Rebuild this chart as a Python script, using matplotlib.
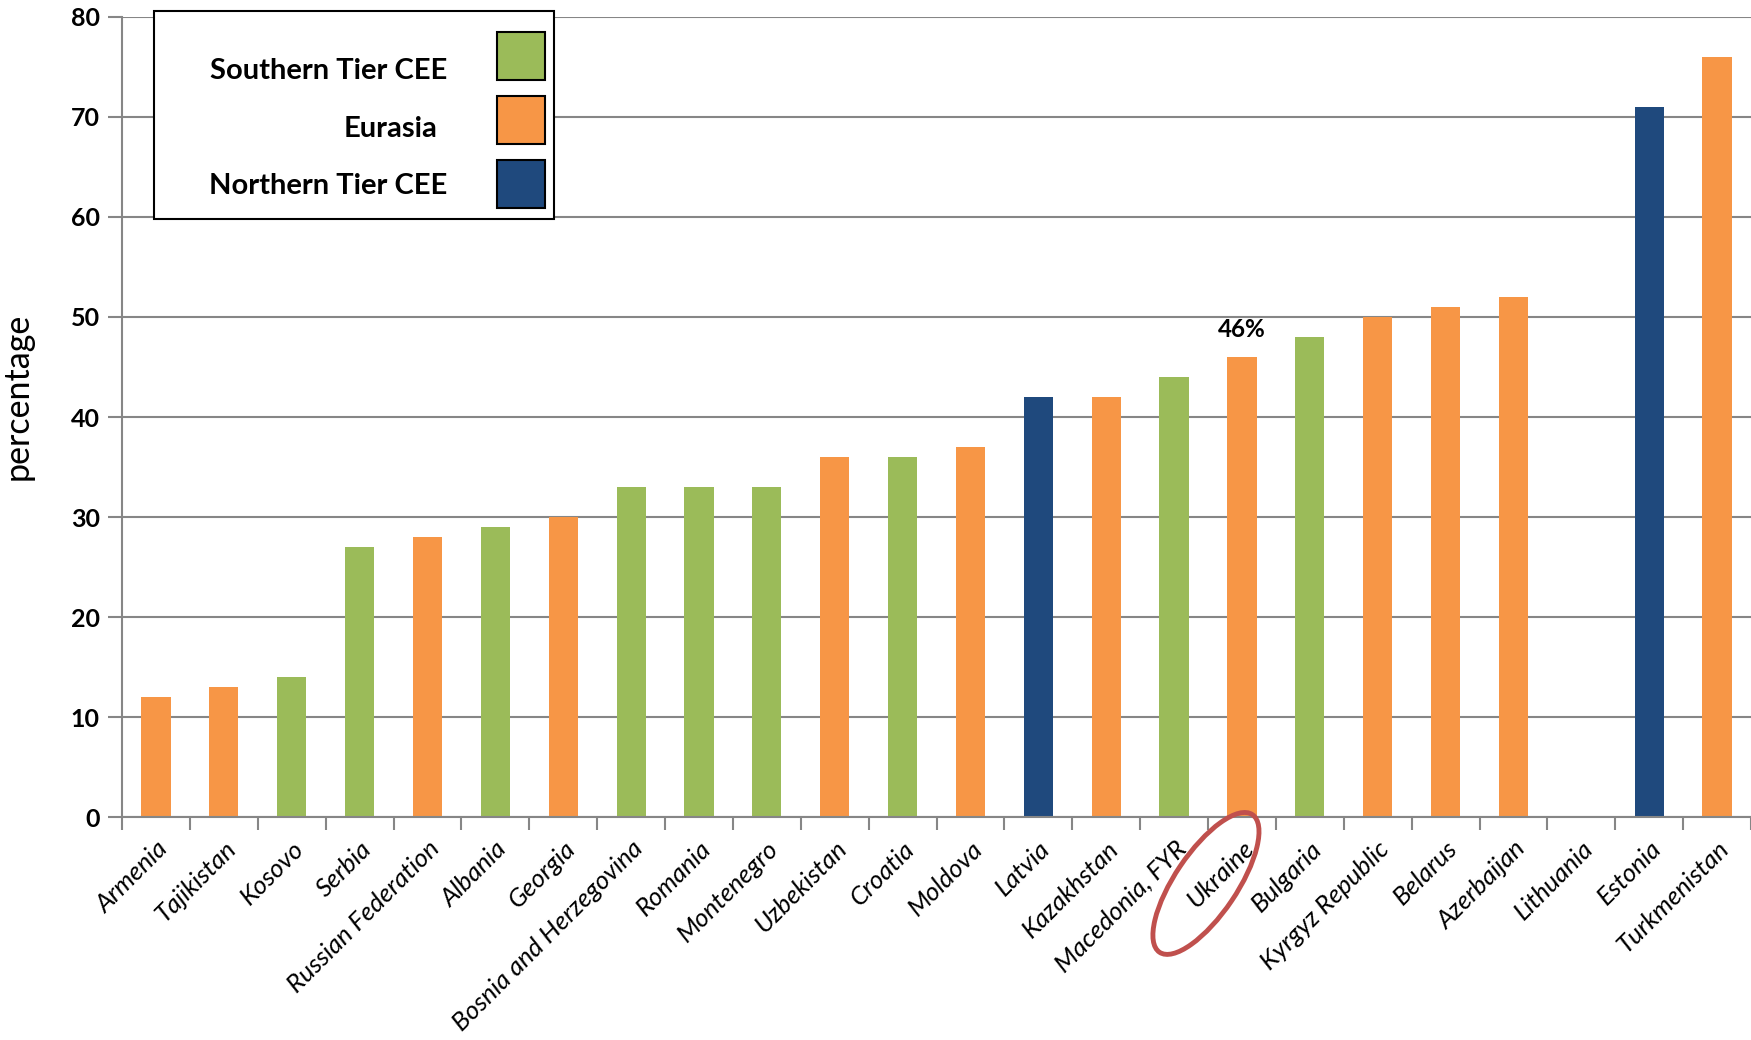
import matplotlib.pyplot as plt
import numpy as np
from matplotlib.patches import Rectangle, Ellipse
from matplotlib.transforms import IdentityTransform

# Data
countries = ["Armenia", "Tajikistan", "Kosovo", "Serbia", "Russian Federation", "Albania",
             "Georgia", "Bosnia and Herzegovina", "Romania", "Montenegro", "Uzbekistan",
             "Croatia", "Moldova", "Latvia", "Kazakhstan", "Macedonia, FYR", "Ukraine",
             "Bulgaria", "Kyrgyz Republic", "Belarus", "Azerbaijan", "Lithuania",
             "Estonia", "Turkmenistan"]
values = [12, 13, 14, 27, 28, 29, 30, 33, 33, 33, 36, 36, 37, 42, 42, 44, 46, 48, 50, 51, 52, 0, 71, 76]
groups = ["E", "E", "S", "S", "E", "S", "E", "S", "S", "S", "E", "S", "E", "N", "E", "S", "E",
          "S", "E", "E", "E", "N", "N", "E"]
group_names = {"S": "Southern Tier CEE", "E": "Eurasia", "N": "Northern Tier CEE"}
group_colors = {"S": "#9BBB59", "E": "#F79646", "N": "#1F497D"}
yticks = [0, 10, 20, 30, 40, 50, 60, 70, 80]
highlight = "Ukraine"
highlight_label = "46%"

grid_color = "#868686"

fig = plt.figure(figsize=(17.51, 10.40), dpi=100)
ax = fig.add_axes([0.0697, 0.214, 1 - 0.0697, 0.770])

x = np.arange(len(countries))
ax.bar(x, values, width=0.43, color=[group_colors[g] for g in groups], zorder=3)

ax.set_xlim(-0.5, len(countries) - 0.5)
ax.set_ylim(0, 80)
ax.set_yticks(yticks)
ax.set_yticklabels([str(t) for t in yticks], fontsize=18, fontweight="bold", family="Lato")
ax.yaxis.grid(True, color=grid_color, linewidth=1.5, zorder=0)
ax.tick_params(axis="y", length=10, width=1.5, color=grid_color, pad=6)

ax.set_xticks(x)
ax.set_xticklabels(countries, rotation=45, ha="right", rotation_mode="anchor",
                   fontsize=18.5, style="italic", family="Lato")
ax.tick_params(axis="x", which="major", length=0, pad=14)
ax.set_xticks(np.arange(-0.5, len(countries), 1), minor=True)
ax.tick_params(axis="x", which="minor", length=9, width=1.5, color=grid_color)

for s in ["top", "right"]:
    ax.spines[s].set_visible(False)
for s in ["left", "bottom"]:
    ax.spines[s].set_color(grid_color)
    ax.spines[s].set_linewidth(1.5)
ax.spines["bottom"].set_zorder(4)

ax.set_ylabel("percentage", fontsize=24.5, family="Lato")
ax.yaxis.set_label_coords(-0.0545, 0.526)

# value label above highlighted bar
hi = countries.index(highlight)
ax.text(hi, values[hi] + 1.6, highlight_label, ha="center", va="bottom",
        fontsize=17.5, fontweight="bold", family="Lato")

# legend drawn by hand (text right aligned left of swatches)
W, H = 1751, 1040
def fx(px):
    return px / W
def fy(py):
    return 1 - py / H

fig.add_artist(Rectangle((fx(154), fy(219)), fx(554) - fx(154), fy(11) - fy(219),
                         transform=fig.transFigure, facecolor="white", edgecolor="black",
                         linewidth=1.5, zorder=10))
text_y = [71, 129, 186]
text_x = [447, 437, 447]
for i, g in enumerate(["S", "E", "N"]):
    top = 32 + i * 64
    fig.add_artist(Rectangle((fx(497), fy(top + 48)), fx(545) - fx(497), fy(top) - fy(top + 48),
                             transform=fig.transFigure, facecolor=group_colors[g],
                             edgecolor="black", linewidth=1.5, zorder=11))
    fig.text(fx(text_x[i]), fy(text_y[i]), group_names[g], ha="right", va="center",
             fontsize=21, fontweight="bold", family="Lato", zorder=11)

# circle around highlighted tick label
fig.canvas.draw()
cx, cy = ax.transData.transform((hi, 0))
fig.add_artist(Ellipse((cx - 36, cy - 66), 166, 62, angle=56, transform=IdentityTransform(),
                       fill=False, edgecolor="#C0504D", linewidth=3.5, zorder=12))

plt.savefig("out.png", dpi=100)
